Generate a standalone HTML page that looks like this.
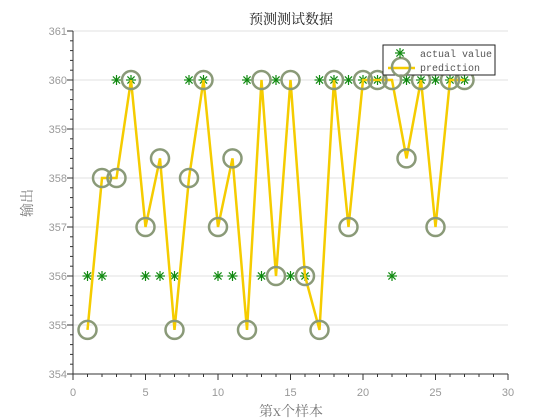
<!DOCTYPE html>
<html><head><meta charset="utf-8"><style>
html,body{margin:0;padding:0;background:#fff;}
svg{display:block;font-family:"Liberation Sans","Noto Sans CJK SC",sans-serif;}
</style></head><body>
<svg id="chart" width="560" height="420" viewBox="0 0 560 420" xmlns="http://www.w3.org/2000/svg">
<rect width="560" height="420" fill="#fff"/>
<g id="grid"></g><g id="axes"></g><g id="series"></g>
<text x="291" y="24" text-anchor="middle" font-size="14" fill="#222" font-family="'Noto Serif CJK SC','Noto Sans CJK SC',serif">预测测试数据</text>
<text x="291" y="416" text-anchor="middle" font-size="14" fill="#777" font-family="'Noto Serif CJK SC','Noto Sans CJK SC',serif">第x个样本</text>
<text transform="translate(32,203) rotate(-90)" text-anchor="middle" font-size="14" fill="#777" font-family="'Noto Serif CJK SC','Noto Sans CJK SC',serif">输出</text>
<g id="legend">
<rect x="383" y="45" width="112" height="30" fill="#fff" stroke="#222" stroke-width="1"/>
<text x="420" y="57" font-size="10" fill="#555" font-family="'Liberation Mono',monospace">actual value</text>
<line x1="388" y1="68" x2="415" y2="68" stroke="#f5cc00" stroke-width="2.5"/>
<circle cx="401" cy="67" r="9" fill="none" stroke="#8a9a78" stroke-width="2.5"/>
<text x="420" y="71" font-size="10" fill="#555" font-family="'Liberation Mono',monospace">prediction</text>
</g>
</svg>
<script>
const xTicks=[0,5,10,15,20,25,30];
const yTicks=[354,355,356,357,358,359,360,361];
const actual=[356,356,360,360,356,356,356,360,360,356,356,360,356,360,356,356,360,360,360,360,360,356,360,360,360,360,360];
const prediction=[354.9,358,358,360,357,358.4,354.9,358,360,357,358.4,354.9,360,356,360,356,354.9,360,357,360,360,360,358.4,360,357,360,360];
const NS="http://www.w3.org/2000/svg";
const X0=73,X1=508,Y0=374,Y1=31;
const sx=v=>X0+(v-0)/(30-0)*(X1-X0);
const sy=v=>Y0-(v-354)/(361-354)*(Y0-Y1);
function mk(tag,attrs,parent){const e=document.createElementNS(NS,tag);for(const k in attrs)e.setAttribute(k,attrs[k]);parent.appendChild(e);return e;}
function star(cx,cy,parent){
  const g=mk('g',{stroke:'#128a12','stroke-width':1.2},parent);
  const r=5,d=3.6;
  mk('line',{x1:cx-r,x2:cx+r,y1:cy,y2:cy},g);
  mk('line',{x1:cx,x2:cx,y1:cy-r,y2:cy+r},g);
  mk('line',{x1:cx-d,x2:cx+d,y1:cy-d,y2:cy+d},g);
  mk('line',{x1:cx-d,x2:cx+d,y1:cy+d,y2:cy-d},g);
  return g;
}
const grid=document.getElementById('grid'),axes=document.getElementById('axes'),ser=document.getElementById('series');
yTicks.forEach(t=>{
  const g=mk('line',{x1:X0,x2:X1,y1:sy(t),y2:sy(t),stroke:'#e2e2e2','stroke-width':1},grid);
  
  
  const l=mk('text',{x:X0-6,y:sy(t)+4,'text-anchor':'end','font-size':11,fill:'#999'},axes);
  l.textContent=t;
  
  
  mk('line',{x1:X0-6,x2:X0,y1:sy(t),y2:sy(t),stroke:'#333'},axes);
});
for(let v=354;v<361;v+=0.2){mk('line',{x1:X0-3,x2:X0,y1:sy(v),y2:sy(v),stroke:'#333'},axes);}
for(let v=0;v<=30;v++){mk('line',{x1:sx(v),x2:sx(v),y1:Y0,y2:Y0+3,stroke:'#333'},axes);}
xTicks.forEach(t=>{
  mk('line',{x1:sx(t),x2:sx(t),y1:Y0,y2:Y0+6,stroke:'#333'},axes);
  const l=mk('text',{x:sx(t),y:Y0+22,'text-anchor':'middle','font-size':11,fill:'#999'},axes);
  l.textContent=t;
  
  
});
const ya=mk('line',{x1:X0,x2:X0,y1:Y1,y2:Y0,stroke:'#333','stroke-width':1},axes);


const xa=mk('line',{x1:X0,x2:X1,y1:Y0,y2:Y0,stroke:'#333','stroke-width':1},axes);


const ls=star(400,53,document.getElementById('legend'));


actual.forEach((v,i)=>{
  const s=star(sx(i+1),sy(v),ser);
  
  
});
const pl=mk('polyline',{points:prediction.map((v,i)=>sx(i+1)+','+sy(v)).join(' '),fill:'none',stroke:'#f5cc00','stroke-width':2.5},ser);


prediction.forEach((v,i)=>{
  const c=mk('circle',{cx:sx(i+1),cy:sy(v),r:9,fill:'none',stroke:'#8a9a78','stroke-width':2.5},ser);
  
  
});
</script>
</body></html>
